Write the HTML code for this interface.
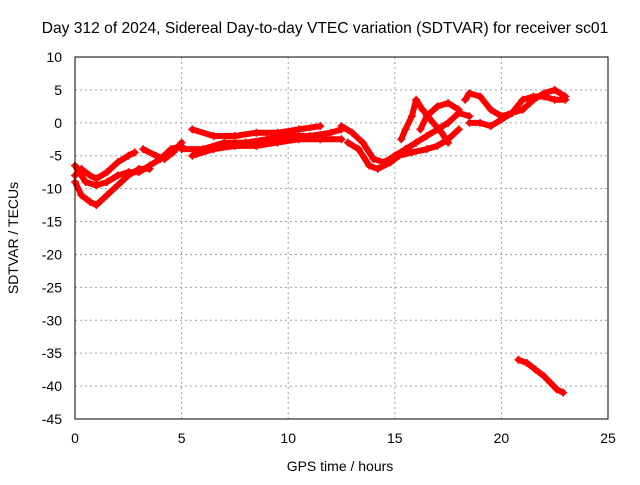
<!DOCTYPE html>
<html><head><meta charset="utf-8"><style>
body{margin:0;background:#fff}
svg text{font-family:"Liberation Sans",sans-serif;font-size:14px;fill:#000}
</style></head><body>
<svg id="chart" width="640" height="480">
<rect width="640" height="480" fill="#fff"/>
<text x="325" y="33" text-anchor="middle" style="font-size:15.6px">Day 312 of 2024, Sidereal Day-to-day VTEC variation (SDTVAR) for receiver sc01</text>
<g id="grid"></g><g id="ticks"></g><g id="marks"></g>
<rect x="75" y="57" width="533" height="362" fill="none" stroke="#000"/>
<text x="340" y="471" text-anchor="middle">GPS time / hours</text>
<text transform="translate(18,238) rotate(-90)" text-anchor="middle">SDTVAR / TECUs</text>
</svg>
<script>
const xTicks=[0,5,10,15,20,25];
const yTicks=[10,5,0,-5,-10,-15,-20,-25,-30,-35,-40,-45];
const track1=[[0,-8],[0.3,-7],[0.7,-8],[1,-8.5],[1.5,-7.5],[2,-6],[2.5,-5],[2.8,-4.5]];
const track2=[[0,-9],[0.3,-11],[0.7,-12],[1,-12.5],[1.5,-11],[2,-9.5],[2.5,-8],[3,-7],[3.5,-7]];
const track3=[[0,-6.5],[0.5,-9],[1,-9.5],[1.5,-9],[2,-8],[2.5,-7.5],[3,-7.5],[3.5,-6.5],[4,-5.5],[4.5,-4],[5,-3.5]];
const track4=[[3.2,-4],[3.8,-5],[4.2,-5.5],[4.6,-4.5],[5,-3]];
const track5=[[5,-4],[6,-4],[7,-3],[8,-3],[9,-2.5],[10,-2],[11,-2],[12,-1.5],[12.5,-1]];
const track6=[[5.5,-1],[6.5,-2],[7.5,-2],[8.5,-1.5],[9.5,-1.5],[10.5,-1],[11.5,-0.5]];
const track7=[[5.5,-5],[6.5,-4],[7.5,-3.5],[8.5,-3.5],[9.5,-3],[10.5,-2.5],[11.5,-2.5],[12.5,-2.5]];
const track8=[[12.5,-0.5],[13,-1.5],[13.5,-3],[14,-5.5],[14.5,-6],[15,-5],[15.5,-4],[16,-3],[16.5,-2],[17,-1],[17.5,0],[18,1.5],[18.5,1]];
const track9=[[12.8,-3],[13.3,-4],[13.8,-6.5],[14.2,-7],[14.8,-6],[15.2,-5],[15.8,-4.5],[16.5,-4],[17,-3.5],[17.5,-2.5],[18,-1]];
const track10=[[15.3,-2.5],[15.5,-1],[15.8,1],[16,3.5],[16.3,2],[16.8,0],[17.2,-1.5],[17.5,-3]];
const track11=[[16.2,-1],[16.5,1],[17,2.5],[17.5,3],[18,2]];
const track12=[[18.3,3.5],[18.5,4.5],[19,4],[19.5,2],[20,1],[20.5,1.5],[21,2],[21.5,3.5],[22,4.5],[22.5,5],[23,4]];
const track13=[[18.5,0],[19,0],[19.5,-0.5],[20,0.5],[20.5,1.5],[21,3.5],[21.5,4],[22,4],[22.5,3.5],[23,3.5]];
const track14=[[20.8,-36],[21.2,-36.5],[21.6,-37.5],[22,-38.5],[22.3,-39.5],[22.6,-40.5],[22.9,-41]];
const tracks=[track1,track2,track3,track4,track5,track6,track7,track8,track9,track10,track11,track12,track13,track14];
const NS="http://www.w3.org/2000/svg";
const X=v=>75+v/25*533, Y=v=>57+(10-v)/55*362;
function mk(t,a,p){const e=document.createElementNS(NS,t);for(const k in a)e.setAttribute(k,a[k]);p.appendChild(e);return e;}
const g=document.getElementById('grid'),tk=document.getElementById('ticks'),m=document.getElementById('marks');
xTicks.forEach(v=>{
 if(v>0&&v<25){const l=mk('line',{x1:X(v),x2:X(v),y1:57,y2:419,stroke:'#a0a0a0','stroke-dasharray':'2,3'},g);
 
 }
 const t=mk('text',{x:X(v),y:443,'text-anchor':'middle'},tk);t.textContent=v;
 
 
});
yTicks.forEach(v=>{
 if(v<10&&v>-45){const l=mk('line',{x1:75,x2:608,y1:Y(v),y2:Y(v),stroke:'#a0a0a0','stroke-dasharray':'2,3'},g);
 
 }
 const t=mk('text',{x:62,y:Y(v)+5,'text-anchor':'end'},tk);t.textContent=v;
 
 
});
tracks.forEach(tr=>{
 const pl=mk('polyline',{points:tr.map(p=>X(p[0])+','+Y(p[1])).join(' '),fill:'none',stroke:'#f00','stroke-width':6,'stroke-linejoin':'round','stroke-linecap':'round'},m);
 
 
 tr.forEach(p=>{
  const c=mk('path',{d:`M${X(p[0])-4},${Y(p[1])}h8M${X(p[0])},${Y(p[1])-4}v8`,stroke:'#f00','stroke-width':1.5},m);
  
  
 });
});
</script>
</body></html>
